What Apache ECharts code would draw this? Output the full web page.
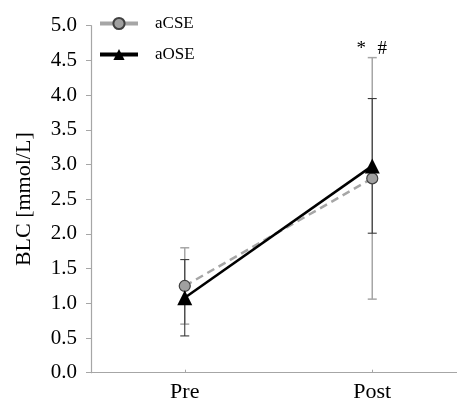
<!DOCTYPE html>
<html>
<head>
<meta charset="utf-8">
<script src="https://cdn.jsdelivr.net/npm/echarts@6/dist/echarts.min.js"></script>
<style>html,body{margin:0;padding:0;background:#fff}#c{width:457px;height:400px}</style>
</head>
<body>
<div id="c"></div>
<script>
var categories = ['Pre', 'Post'];
var aCSE_mean = [1.25, 2.80];
var aCSE_sd = [0.55, 1.74];
var aOSE_mean = [1.08, 2.98];
var aOSE_sd = [0.55, 0.97];
var sigMarks = [[], ['*', '#']];
var yTicks = [0, 0.5, 1, 1.5, 2, 2.5, 3, 3.5, 4, 4.5, 5];

var FONT = 'Liberation Serif';

function errData(mean, sd) {
  return mean.map(function (m, i) { return [i, m - sd[i], m + sd[i]]; });
}

function errRender(color, width, withMarks) {
  return function (params, api) {
    var i = api.value(0);
    var lo = api.coord([i, api.value(1)]);
    var hi = api.coord([i, api.value(2)]);
    var cap = 4.5;
    var children = [
      { type: 'line', shape: { x1: lo[0], y1: lo[1], x2: hi[0], y2: hi[1] }, style: { stroke: color, lineWidth: width } },
      { type: 'line', shape: { x1: hi[0] - cap, y1: hi[1], x2: hi[0] + cap, y2: hi[1] }, style: { stroke: color, lineWidth: width } },
      { type: 'line', shape: { x1: lo[0] - cap, y1: lo[1], x2: lo[0] + cap, y2: lo[1] }, style: { stroke: color, lineWidth: width } }
    ];
    if (withMarks) {
      var marks = sigMarks[i] || [];
      var offs = [-11, 10];
      marks.forEach(function (t, k) {
        children.push({ type: 'text', style: { text: t, x: hi[0] + offs[k], y: hi[1] - 9, align: 'center', verticalAlign: 'middle', font: '19px ' + FONT, fill: '#000' } });
      });
    }
    return { type: 'group', children: children };
  };
}

var chart = echarts.init(document.getElementById('c'));
chart.setOption({
  animation: false,
  backgroundColor: '#fff',
  grid: { left: 91, right: -9, top: 25.7, bottom: 27.3, containLabel: false, outerBoundsMode: 'none' },
  legend: {
    orient: 'vertical',
    left: 93,
    top: 10,
    itemWidth: 38,
    itemHeight: 14,
    itemGap: 14,
    lineStyle: { type: 'solid', width: 4 },
    textStyle: { fontFamily: FONT, fontSize: 17, color: '#000', padding: [0, 0, 0, 12] },
    data: ['aCSE', 'aOSE']
  },
  xAxis: {
    type: 'category',
    data: categories,
    boundaryGap: true,
    axisLine: { lineStyle: { color: '#a6a6a6', width: 1.2 } },
    axisTick: { show: true, inside: true, alignWithLabel: true, length: 3, lineStyle: { color: '#a6a6a6' } },
    axisLabel: { fontFamily: FONT, fontSize: 22, color: '#000', margin: 9 },
    splitLine: { show: false }
  },
  yAxis: {
    type: 'value',
    min: 0,
    max: 5,
    interval: 0.5,
    name: 'BLC [mmol/L]',
    nameLocation: 'middle',
    nameGap: 56,
    nameTextStyle: { fontFamily: FONT, fontSize: 22, color: '#000' },
    axisLine: { show: true, lineStyle: { color: '#a6a6a6', width: 1.2 } },
    axisTick: { show: true, inside: false, length: 5, lineStyle: { color: '#a6a6a6' } },
    axisLabel: {
      fontFamily: FONT, fontSize: 21, color: '#000', margin: 14,
      formatter: function (v) { return yTicks.indexOf(v) >= 0 ? v.toFixed(1) : ''; }
    },
    splitLine: { show: false }
  },
  series: [
    {
      name: 'aCSE_err', type: 'custom', z: 1,
      renderItem: errRender('#a6a6a6', 1.5, true),
      data: errData(aCSE_mean, aCSE_sd),
      encode: { x: 0, y: [1, 2] },
      silent: true
    },
    {
      name: 'aOSE_err', type: 'custom', z: 2,
      renderItem: errRender('#3a3a3a', 1.1, false),
      data: errData(aOSE_mean, aOSE_sd),
      encode: { x: 0, y: [1, 2] },
      silent: true
    },
    {
      name: 'aCSE', type: 'line', z: 3,
      data: aCSE_mean,
      symbol: 'circle', symbolSize: 11,
      lineStyle: { color: '#a6a6a6', width: 2.5, type: [8, 5] },
      itemStyle: { color: '#a0a0a0', borderColor: '#404040', borderWidth: 1.2 }
    },
    {
      name: 'aOSE', type: 'line', z: 4,
      data: aOSE_mean,
      symbol: 'triangle', symbolSize: 15,
      lineStyle: { color: '#000', width: 2.5 },
      itemStyle: { color: '#000' }
    }
  ]
});
</script>
</body>
</html>
